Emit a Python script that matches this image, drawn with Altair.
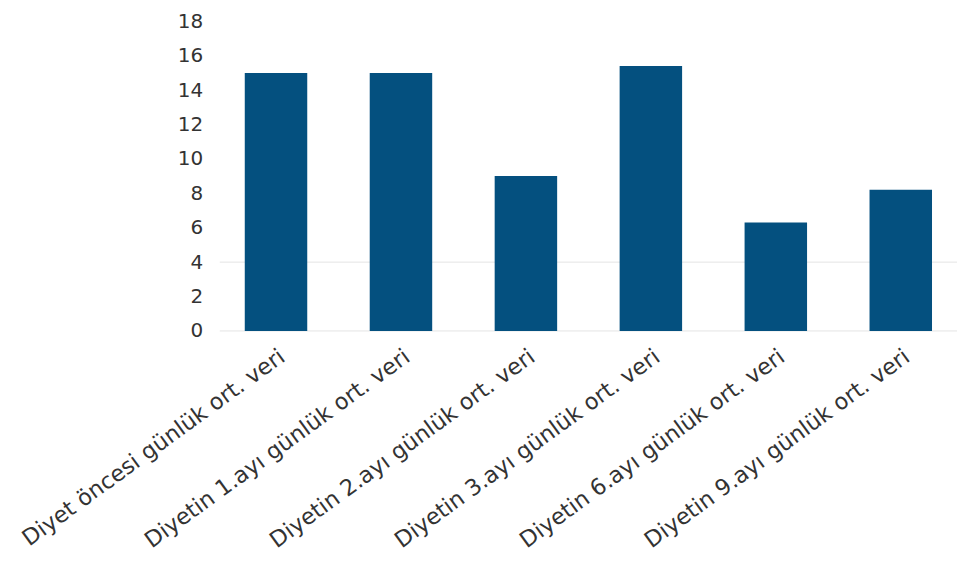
import altair as alt
import pandas as pd

categories = [
    "Diyet öncesi günlük ort. veri",
    "Diyetin 1.ayı günlük ort. veri",
    "Diyetin 2.ayı günlük ort. veri",
    "Diyetin 3.ayı günlük ort. veri",
    "Diyetin 6.ayı günlük ort. veri",
    "Diyetin 9.ayı günlük ort. veri",
]
values = [15.0, 15.0, 9.0, 15.4, 6.3, 8.2]
y_ticks = [0, 2, 4, 6, 8, 10, 12, 14, 16, 18]
grid_values = [0, 4]

df = pd.DataFrame({"cat": categories, "val": values})
grid_df = pd.DataFrame({"g": grid_values})

FONT = "DejaVu Sans"

y_axis = alt.Axis(
    values=y_ticks,
    labelFont=FONT,
    labelFontSize=20,
    labelColor="#333333",
    labelOverlap=False,
    ticks=False,
    domain=False,
    grid=False,
    labelPadding=17,
)

bars = alt.Chart(df).mark_bar(color="#04507f").encode(
    x=alt.X(
        "cat:N",
        sort=categories,
        title=None,
        scale=alt.Scale(paddingInner=0.5, paddingOuter=0.2),
        axis=alt.Axis(
            labelAngle=-36,
            labelFont=FONT,
            labelFontSize=22.5,
            labelColor="#333333",
            labelLimit=500,
            labelOverlap=False,
            ticks=False,
            domain=False,
            labelPadding=14,
        ),
    ),
    y=alt.Y("val:Q", title=None, scale=alt.Scale(domain=[0, 18]), axis=y_axis),
)

grid = alt.Chart(grid_df).mark_rule(color="#e4e4e4", strokeWidth=1).encode(
    y=alt.Y("g:Q", title=None, scale=alt.Scale(domain=[0, 18]), axis=y_axis)
)

chart = (
    alt.layer(grid, bars)
    .properties(
        width=738,
        height=310,
        padding={"top": 3, "left": 10, "right": 0, "bottom": 0},
    )
    .configure_view(strokeWidth=0)
)

chart.save("out.html", embed_options={"renderer": "svg", "actions": False})
